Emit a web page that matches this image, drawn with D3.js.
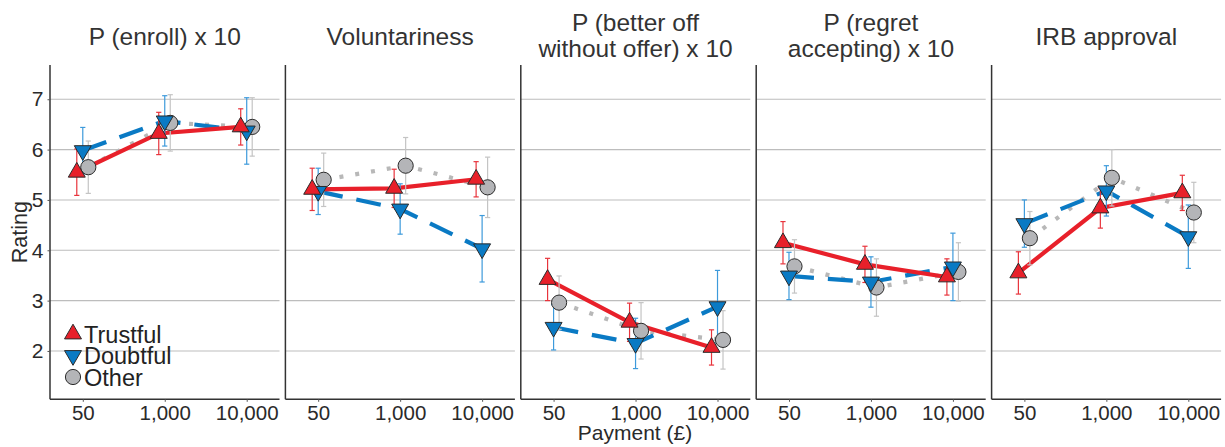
<!DOCTYPE html>
<html>
<head>
<meta charset="utf-8">
<script src="https://cdn.jsdelivr.net/npm/d3@7"></script>
<style>
  html, body { margin: 0; padding: 0; background: #fff; }
  svg { display: block; font-family: "Liberation Sans", Arial, Helvetica, sans-serif; }
</style>
</head>
<body>
<svg id="chart" width="1225" height="447"></svg>
<script>
// ---- data ----
const payments = ["50", "1,000", "10,000"];
const measures = [
  ["P (enroll) x 10"],
  ["Voluntariness"],
  ["P (better off", "without offer) x 10"],
  ["P (regret", "accepting) x 10"],
  ["IRB approval"]
];
const groups = ["Trustful", "Doubtful", "Other"];
const yTicks = [2, 3, 4, 5, 6, 7];

// means [measure][payment]
const trustfulMean = [[5.55, 6.32, 6.45], [5.21, 5.23, 5.41], [3.42, 2.57, 2.07], [4.15, 3.72, 3.47], [3.55, 4.84, 5.14]];
const trustfulErr  = [[0.46, 0.42, 0.36], [0.42, 0.38, 0.35], [0.42, 0.38, 0.35], [0.42, 0.36, 0.36], [0.42, 0.40, 0.35]];
const doubtfulMean = [[5.98, 6.57, 6.37], [5.17, 4.82, 4.03], [2.47, 2.15, 2.88], [3.49, 3.37, 3.67], [4.53, 5.18, 4.27]];
const doubtfulErr  = [[0.46, 0.50, 0.66], [0.46, 0.50, 0.66], [0.45, 0.50, 0.72], [0.47, 0.50, 0.67], [0.47, 0.50, 0.63]];
const otherMean    = [[5.65, 6.53, 6.45], [5.40, 5.68, 5.25], [2.96, 2.40, 2.22], [3.68, 3.26, 3.57], [4.24, 5.44, 4.75]];
const otherErr     = [[0.52, 0.56, 0.58], [0.53, 0.56, 0.60], [0.53, 0.56, 0.58], [0.53, 0.57, 0.58], [0.53, 0.56, 0.60]];

// ---- styles ----
const means = [trustfulMean, doubtfulMean, otherMean];
const errs = [trustfulErr, doubtfulErr, otherErr];
const lineColor = ["#E8202A", "#0A7AC4", "#B8B8B8"];
const errColor = ["#E8343C", "#3D9ADB", "#C4C4C4"];
const fillColor = ["#E8202A", "#0A7AC4", "#B4B5B8"];
const dash = [null, "25,14", "4,12"];
const dodge = [-6, 0, 5.5];
const drawOrder = [2, 1, 0];

const svg = d3.select("#chart");
const plotTop = 65, plotBottom = 399.3;
const panelW = 229.5, panelStep = 235.4, firstLeft = 50;

const y = d3.scaleLinear().domain([1.04, 7.68]).range([plotBottom, plotTop]);

const textColor = "#2a2a2a";

function triPath(r, down) {
  const s = down ? -1 : 1;
  const pts = [[0, -s * r], [-r * Math.sqrt(3) / 2, s * r / 2], [r * Math.sqrt(3) / 2, s * r / 2]];
  return "M" + pts.map(p => p.join(",")).join("L") + "Z";
}
function markerPath(gi) {
  if (gi === 0) return triPath(9.8, false);
  if (gi === 1) return triPath(9.8, true);
  return d3.symbol().type(d3.symbolCircle).size(Math.PI * 7.6 * 7.6)();
}

measures.forEach((title, mi) => {
  const left = firstLeft + mi * panelStep;
  const x = d3.scalePoint().domain(payments).range([left, left + panelW]).padding(0.4);
  const g = svg.append("g");

  g.selectAll("line.grid").data(yTicks).enter().append("line")
    .attr("x1", left).attr("x2", left + panelW)
    .attr("y1", d => y(d)).attr("y2", d => y(d))
    .attr("stroke", "#BDBDBD").attr("stroke-width", 1.1);

  g.append("line").attr("x1", left).attr("x2", left).attr("y1", plotTop).attr("y2", plotBottom)
    .attr("stroke", "#333").attr("stroke-width", 1.5);
  g.append("line").attr("x1", left).attr("x2", left + panelW).attr("y1", plotBottom).attr("y2", plotBottom)
    .attr("stroke", "#333").attr("stroke-width", 1.5);

  const xAxis = d3.axisBottom(x).tickSize(2.5).tickPadding(3.5);
  const xa = g.append("g").attr("transform", `translate(0,${plotBottom})`).call(xAxis);
  xa.select(".domain").remove();
  xa.selectAll("line").attr("stroke", "#555");
  xa.selectAll("text").attr("font-size", 20.5).attr("fill", textColor).attr("font-family", null);

  const cx = left + panelW / 2;
  const tt = g.append("text").attr("text-anchor", "middle").attr("font-size", 24.5).attr("fill", "#333");
  if (title.length === 1) {
    tt.append("tspan").attr("x", cx).attr("y", 45).text(title[0]);
  } else {
    tt.append("tspan").attr("x", cx).attr("y", 31).text(title[0]);
    tt.append("tspan").attr("x", cx).attr("y", 57).text(title[1]);
  }

  drawOrder.forEach(gi => {
    const line = d3.line().x((d, i) => x(payments[i]) + dodge[gi]).y(d => y(d));
    g.append("path").datum(means[gi][mi]).attr("d", line)
      .attr("fill", "none").attr("stroke", lineColor[gi]).attr("stroke-width", 4.2)
      .attr("stroke-dasharray", dash[gi]);
  });
  drawOrder.forEach(gi => {
    means[gi][mi].forEach((m, i) => {
      const e = errs[gi][mi][i];
      const px = x(payments[i]) + dodge[gi];
      const eg = g.append("g").attr("stroke", errColor[gi]).attr("stroke-width", 1.2);
      eg.append("line").attr("x1", px).attr("x2", px).attr("y1", y(m - e)).attr("y2", y(m + e));
      eg.append("line").attr("x1", px - 2.6).attr("x2", px + 2.6).attr("y1", y(m - e)).attr("y2", y(m - e));
      eg.append("line").attr("x1", px - 2.6).attr("x2", px + 2.6).attr("y1", y(m + e)).attr("y2", y(m + e));
    });
  });
  drawOrder.forEach(gi => {
    means[gi][mi].forEach((m, i) => {
      g.append("path").attr("d", markerPath(gi))
        .attr("transform", `translate(${x(payments[i]) + dodge[gi]},${y(m)})`)
        .attr("fill", fillColor[gi]).attr("stroke", "#2b2b2b").attr("stroke-width", 1);
    });
  });
});

const ya = svg.append("g").attr("transform", `translate(${firstLeft},0)`)
  .call(d3.axisLeft(y).tickValues(yTicks).tickSize(2.5).tickPadding(4).tickFormat(d3.format("d")));
ya.select(".domain").remove();
ya.selectAll("line").attr("stroke", "#555");
ya.selectAll("text").attr("font-size", 21).attr("fill", textColor).attr("font-family", null);

svg.append("text").attr("x", 635).attr("y", 440).attr("text-anchor", "middle")
  .attr("font-size", 21).attr("fill", textColor).text("Payment (£)");
svg.append("text").attr("transform", `translate(27,${(plotTop + plotBottom) / 2}) rotate(-90)`)
  .attr("text-anchor", "middle").attr("font-size", 21.5).attr("fill", textColor).text("Rating");

const legY = [334, 355.5, 377];
groups.forEach((name, gi) => {
  const lg = svg.append("g").attr("transform", `translate(73,${legY[gi]})`);
  lg.append("path").attr("d", markerPath(gi)).attr("fill", fillColor[gi])
    .attr("stroke", "#2b2b2b").attr("stroke-width", 1);
  lg.append("text").attr("x", 11).attr("y", 8.5).attr("font-size", 23.5).attr("fill", "#222").text(name);
});
</script>
</body>
</html>
